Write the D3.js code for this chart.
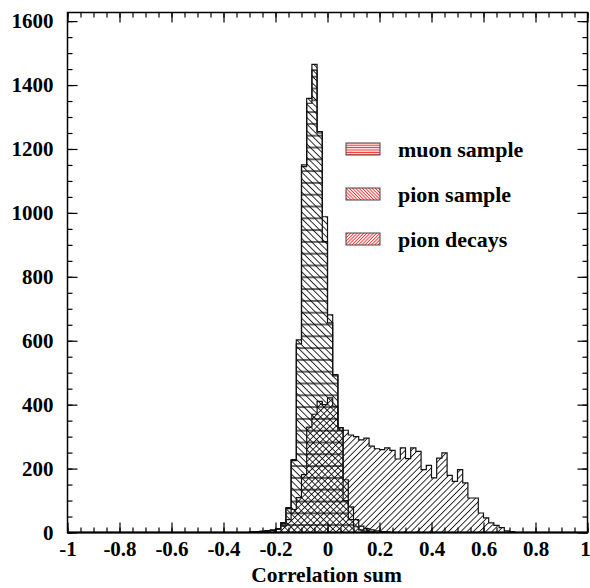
<!DOCTYPE html>
<html><head><meta charset="utf-8">
<script src="https://cdn.jsdelivr.net/npm/d3@7"></script>
<style>body{margin:0;background:#fff} svg{display:block}</style>
</head><body><div id="chart"></div>
<script>
// bin left edges (bin width 0.02)
const binLeft = [-0.30,-0.28,-0.26,-0.24,-0.22,-0.20,-0.18,-0.16,-0.14,-0.12,-0.10,-0.08,-0.06,-0.04,-0.02,0.00,0.02,0.04,0.06,0.08,0.10,0.12,0.14,0.16,0.18,0.20,0.22,0.24,0.26,0.28,0.30,0.32,0.34,0.36,0.38,0.40,0.42,0.44,0.46,0.48,0.50,0.52,0.54,0.56,0.58,0.60,0.62,0.64,0.66,0.68,0.70];
const binWidth = 0.02;
const pionDecays = [1,2,3,4,6,10,20,40,72,109,181,330,370,410,400,421,395,328,320,305,300,290,295,270,262,259,265,257,230,265,231,265,254,197,210,171,233,249,179,160,197,155,108,108,61,46,30,22,15,5,3];
const pionSample = [2,3,4,6,8,12,31,78,228,603,1150,1358,1465,1254,988,681,494,328,165,80,40,20,12,8,5,3,2,0,0,0,0,0,0,0,0,0,0,0,0,0,0,0,0,0,0,0,0,0,0,0,0];
const muonSample = [1,2,3,5,7,10,28,75,225,590,1145,1343,1447,1250,910,656,490,320,100,40,18,8,4,2,0,0,0,0,0,0,0,0,0,0,0,0,0,0,0,0,0,0,0,0,0,0,0,0,0,0,0];
const xTicks = [-1,-0.8,-0.6,-0.4,-0.2,0,0.2,0.4,0.6,0.8,1];
const xTickLabels = ["-1","-0.8","-0.6","-0.4","-0.2","0","0.2","0.4","0.6","0.8","1"];
const yTicks = [0,200,400,600,800,1000,1200,1400,1600];
const legendLabels = ["muon sample","pion sample","pion decays"];
const xTitle = "Correlation sum";

const W = 590, H = 588;
const FONT = "'Liberation Serif','Times New Roman',serif";
const x = d3.scaleLinear().domain([-1, 1]).range([67.5, 587.5]);
const y = d3.scaleLinear().domain([0, 1627]).range([532.5, 12.5]);

const svg = d3.select("#chart").append("svg").attr("width", W).attr("height", H);
const defs = svg.append("defs");

function hatch(id, angle, spacing, color, width) {
  const p = defs.append("pattern").attr("id", id)
    .attr("patternUnits", "userSpaceOnUse")
    .attr("width", 20).attr("height", spacing)
    .attr("patternTransform", `rotate(${angle})`);
  p.append("line").attr("x1", -1).attr("x2", 21)
    .attr("y1", spacing / 2).attr("y2", spacing / 2)
    .attr("stroke", color).attr("stroke-width", width);
}
hatch("hH", 0, 11.8, "#000", 1.2);
hatch("hBack", 45, 4.7, "#000", 0.85);
hatch("hFwd", -45, 4.4, "#000", 0.85);
hatch("lH", 0, 2.4, "#ff2a2a", 1.1);
hatch("lBack", 45, 2.3, "#ff2a2a", 0.9);
hatch("lFwd", -45, 2.3, "#ff2a2a", 0.9);

function stepPath(vals) {
  const pts = [];
  pts.push([x(binLeft[0]), y(0)]);
  vals.forEach((v, i) => {
    pts.push([x(binLeft[i]), y(v)]);
    pts.push([x(binLeft[i] + binWidth), y(v)]);
  });
  pts.push([x(binLeft[binLeft.length - 1] + binWidth), y(0)]);
  return d3.line()(pts);
}

const series = [
  {vals: pionDecays, fill: "url(#hFwd)"},
  {vals: pionSample, fill: "url(#hBack)"},
  {vals: muonSample, fill: "url(#hH)"}
];
const g = svg.append("g");
series.forEach(s => {
  g.append("path").attr("d", stepPath(s.vals)).attr("fill", s.fill).attr("stroke", "none");
});
series.forEach(s => {
  g.append("path").attr("d", stepPath(s.vals)).attr("fill", "none")
    .attr("stroke", "#111").attr("stroke-width", 1.2);
});

// axes
const xMinor = d3.range(-1, 1.0001, 0.05).map(v => +v.toFixed(2));
const yMinor = d3.range(0, 1627, 50);
function styleAxis(sel) {
  sel.select(".domain").remove();
  sel.selectAll("line").attr("stroke", "#000").attr("stroke-width", 1.2);
  sel.selectAll("text").attr("font-family", FONT).attr("font-weight", "bold")
    .attr("font-size", 21).attr("fill", "#000");
}
svg.append("g").attr("transform", `translate(0,${y(0)})`)
  .call(d3.axisBottom(x).tickValues(xMinor).tickSize(-5).tickFormat("")).call(styleAxis);
const xb = svg.append("g").attr("transform", `translate(0,${y(0)})`)
  .call(d3.axisBottom(x).tickValues(xTicks).tickSize(-10).tickPadding(8.5)
    .tickFormat((d, i) => xTickLabels[i])).call(styleAxis);
xb.selectAll("text").filter(d => d === 1).attr("dx", -2.5);
svg.append("g").attr("transform", `translate(0,${y.range()[1]})`)
  .call(d3.axisTop(x).tickValues(xMinor).tickSize(-5).tickFormat("")).call(styleAxis);
svg.append("g").attr("transform", `translate(0,${y.range()[1]})`)
  .call(d3.axisTop(x).tickValues(xTicks).tickSize(-10).tickFormat("")).call(styleAxis);
svg.append("g").attr("transform", `translate(${x(-1)},0)`)
  .call(d3.axisLeft(y).tickValues(yMinor).tickSize(-5).tickFormat("")).call(styleAxis);
svg.append("g").attr("transform", `translate(${x(-1)},0)`)
  .call(d3.axisLeft(y).tickValues(yTicks).tickSize(-10).tickPadding(14)
    .tickFormat(d3.format("d"))).call(styleAxis);
svg.append("g").attr("transform", `translate(${x(1)},0)`)
  .call(d3.axisRight(y).tickValues(yMinor).tickSize(-5).tickFormat("")).call(styleAxis);
svg.append("g").attr("transform", `translate(${x(1)},0)`)
  .call(d3.axisRight(y).tickValues(yTicks).tickSize(-10).tickFormat("")).call(styleAxis);

// frame
svg.append("rect").attr("x", x(-1)).attr("y", y.range()[1])
  .attr("width", x(1) - x(-1)).attr("height", y(0) - y.range()[1])
  .attr("fill", "none").attr("stroke", "#000").attr("stroke-width", 1.5);
svg.append("line").attr("x1", x(-1)).attr("x2", x(1)).attr("y1", y(0)).attr("y2", y(0))
  .attr("stroke", "#000").attr("stroke-width", 2.2);

// title
svg.append("text").attr("x", 326.5).attr("y", 582).attr("text-anchor", "middle")
  .attr("font-family", FONT).attr("font-weight", "bold").attr("font-size", 21.5)
  .text(xTitle);

// legend
const legFills = ["url(#lH)", "url(#lBack)", "url(#lFwd)"];
const legY = [143, 188, 233];
legendLabels.forEach((lab, i) => {
  svg.append("rect").attr("x", 346).attr("y", legY[i]).attr("width", 34).attr("height", 12)
    .attr("fill", "#fff");
  svg.append("rect").attr("x", 346).attr("y", legY[i]).attr("width", 34).attr("height", 12)
    .attr("fill", legFills[i]).attr("stroke", "#444").attr("stroke-width", 1);
  svg.append("text").attr("x", 398).attr("y", legY[i] + 14)
    .attr("font-family", FONT).attr("font-weight", "bold").attr("font-size", 22)
    .text(lab);
});
</script>
</body></html>
